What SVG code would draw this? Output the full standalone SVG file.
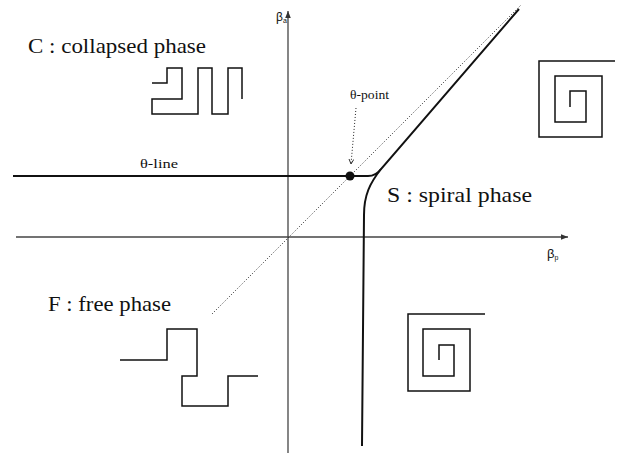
<svg xmlns="http://www.w3.org/2000/svg" width="619" height="455" viewBox="0 0 619 455">
<style>
.lbl{font-family:"Liberation Serif",serif;fill:#111}
.big{font-size:22px}
.sm{font-size:12px}
.ax{stroke:#444;stroke-width:1.3;fill:none}
.poly{stroke:#111;stroke-width:1.5;fill:none;stroke-linejoin:miter}
.thick{stroke:#111;stroke-width:2;fill:none}
.dot{stroke:#222;stroke-width:1;stroke-dasharray:1 2;fill:none}
</style>
<defs>
<marker id="ah" viewBox="0 0 10 10" refX="10" refY="5" markerWidth="7" markerHeight="7" orient="auto" markerUnits="userSpaceOnUse">
<path d="M0,1 L10,5 L0,9 z" fill="#333"/>
</marker>
<marker id="vh" viewBox="0 0 10 10" refX="9" refY="5" markerWidth="6" markerHeight="6" orient="auto" markerUnits="userSpaceOnUse">
<path d="M1,1 L9,5 L1,9" fill="none" stroke="#222" stroke-width="1.5"/>
</marker>
</defs>
<g id="connectors">
<line class="ax" x1="288" y1="453" x2="288" y2="11" marker-end="url(#ah)"/>
<line class="ax" x1="16" y1="237" x2="568" y2="237" marker-end="url(#ah)"/>
<line class="dot" x1="212" y1="314" x2="521" y2="5"/>
<path class="thick" d="M13 176 H368 Q376 176 381 169 L519 9"/>
<path class="thick" d="M381 169 C370 183 364 195 364 215 L362 446"/>
<line class="dot" x1="356" y1="108" x2="351" y2="164" marker-end="url(#vh)"/>
</g>
<g id="theta-point">
<circle cx="350" cy="176" r="4.5" fill="#111"/>
<text class="lbl sm" x="350" y="99" textLength="39" lengthAdjust="spacingAndGlyphs">θ-point</text>
</g>
<g id="theta-line">
<text class="lbl sm" x="140" y="168" textLength="38" lengthAdjust="spacingAndGlyphs">θ-line</text>
</g>
<g id="axis-labels">
<text x="276" y="21" font-family="Liberation Sans,sans-serif" font-size="12" fill="#111">β<tspan font-size="7" dy="2">a</tspan></text>
<text x="547" y="258" font-family="Liberation Sans,sans-serif" font-size="13" fill="#111">β<tspan font-size="7" dy="2">p</tspan></text>
</g>
<g id="collapsed">
<text class="lbl big" x="28" y="53" textLength="178" lengthAdjust="spacingAndGlyphs">C : collapsed phase</text>
<polyline class="poly" points="152,83 167,83 167,68 182,68 182,99 152,99 152,114 198,114 198,68 212,68 212,114 228,114 228,68 242,68 242,99"/>
</g>
<g id="spiral">
<text class="lbl big" x="387" y="202" textLength="145" lengthAdjust="spacingAndGlyphs">S : spiral phase</text>
<polyline class="poly" points="615,61 539,61 539,137 602,137 602,76 555,76 555,122 586,122 586,91 570,91 570,107"/>
<polyline class="poly" points="485,314 408,314 408,391 470,391 470,329 423,329 423,376 454,376 454,345 439,345 439,360"/>
</g>
<g id="free">
<text class="lbl big" x="48" y="311" textLength="123" lengthAdjust="spacingAndGlyphs">F : free phase</text>
<polyline class="poly" points="120,360 167,360 167,329 197,329 197,376 182,376 182,406 228,406 228,376 258,376"/>
</g>
</svg>
